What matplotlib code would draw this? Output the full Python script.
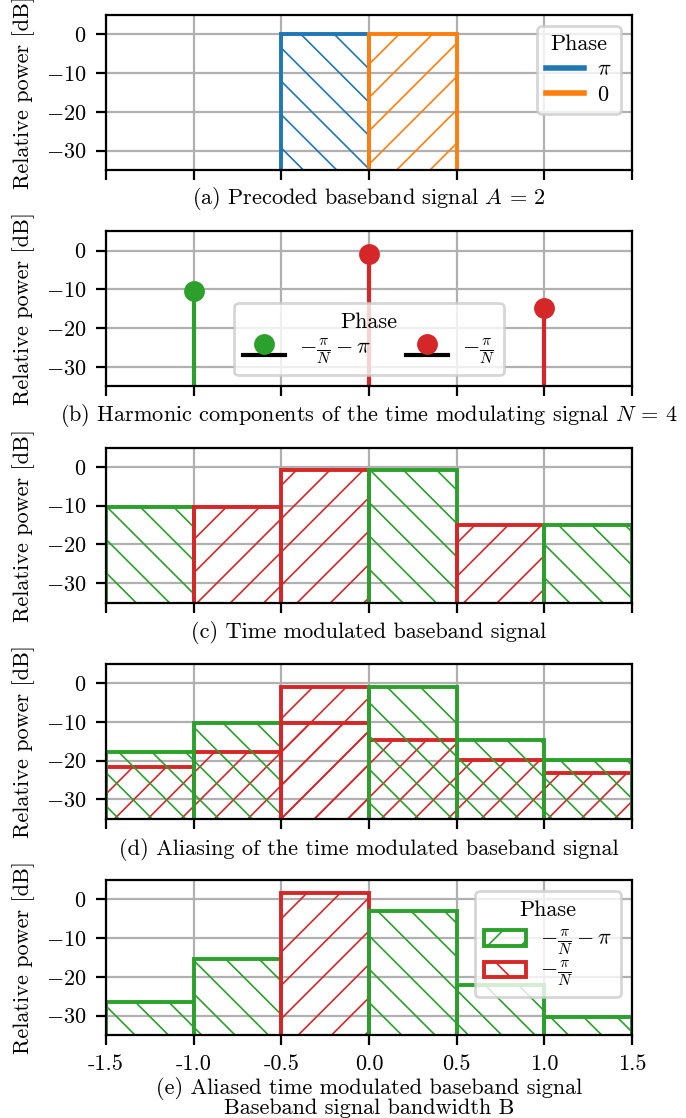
import matplotlib
matplotlib.use('Agg')
import matplotlib.pyplot as plt
from matplotlib.lines import Line2D
from matplotlib.patches import Patch

plt.rcParams.update({
    'font.family': 'serif',
    'font.serif': ['cmr10'],
    'mathtext.fontset': 'cm',
    'axes.formatter.use_mathtext': True,
    'font.size': 8,
    'hatch.linewidth': 0.6,
})

BLUE, ORANGE, GREEN, RED = '#1f77b4', '#ff7f0e', '#2ca02c', '#d62728'

# ---- data ----
xticks = [-1.5, -1.0, -0.5, 0.0, 0.5, 1.0, 1.5]
xtick_labels = ['-1.5', '-1.0', '-0.5', '0.0', '0.5', '1.0', '1.5']
yticks = [0, -10, -20, -30]

captions = [
    r'(a) Precoded baseband signal $A$ = 2',
    r'(b) Harmonic components of the time modulating signal $N$ = 4',
    r'(c) Time modulated baseband signal',
    r'(d) Aliasing of the time modulated baseband signal',
    '(e) Aliased time modulated baseband signal\nBaseband signal bandwidth B',
]

# (a) precoded baseband signal
a_x = [-0.25, 0.25]
a_val = [0.0, 0.0]
a_phase = ['pi', 'zero']

# (b) harmonic components
b_green_x = [-1.0]
b_green_val = [-10.4]
b_red_x = [0.0, 1.0]
b_red_val = [-0.9, -14.9]

# (c) time modulated baseband signal
c_x = [-1.25, -0.75, -0.25, 0.25, 0.75, 1.25]
c_val = [-10.4, -10.4, -0.9, -0.9, -14.9, -14.9]
c_phase = ['g', 'r', 'r', 'g', 'r', 'g']

# (d) aliasing
d_x = [-1.25, -1.25, -0.75, -0.75, -0.25, -0.25, 0.25, 0.25, 0.75, 0.75, 1.25, 1.25]
d_val = [-21.7, -17.8, -17.8, -10.4, -0.9, -10.4, -14.8, -0.9, -19.9, -14.8, -23.1, -19.9]
d_phase = ['r', 'g', 'r', 'g', 'r', 'r', 'r', 'g', 'r', 'g', 'r', 'g']

# (e) aliased signal
e_x = [-1.25, -0.75, -0.25, 0.25, 0.75, 1.25]
e_val = [-26.6, -15.3, 1.55, -2.9, -22.0, -30.3]
e_phase = ['g', 'g', 'r', 'g', 'g', 'g']

style = {
    'g': (GREEN, '\\\\'), 'r': (RED, '//'),
    'pi': (BLUE, '\\\\'), 'zero': (ORANGE, '//'),
}
BOTTOM = -40
LW = 1.4

fig, axes = plt.subplots(5, 1, figsize=(3.43, 5.59), dpi=200, sharex=True)
fig.subplots_adjust(left=0.1545, right=0.921, top=0.9866, bottom=0.0742, hspace=0.395)


def draw_bars(ax, xs, vals, phases):
    for x, v, p in zip(xs, vals, phases):
        col, h = style[p]
        ax.bar(x, v - BOTTOM, bottom=BOTTOM, width=0.5, fill=False,
               edgecolor=col, hatch=h, linewidth=LW, zorder=2)


pads = [2.0, 2.0, 3.3, 3.3, 1.0]
spacings = [0.95, 0.95, 0.95, 0.95, 0.9]
for ax, cap, pad, ls in zip(axes, captions, pads, spacings):
    ax.set_xlim(-1.5, 1.5)
    ax.set_ylim(-35, 5)
    ax.set_xticks(xticks)
    ax.set_yticks(yticks)
    ax.grid(True)
    ax.set_axisbelow(True)
    ax.set_ylabel('Relative power [dB]')
    ax.set_xlabel(cap, labelpad=pad, linespacing=ls)
axes[-1].set_xticklabels(xtick_labels)

leg_kw = dict(handletextpad=0.6, labelspacing=0.25, handlelength=1.7, borderpad=0.4)


def tighten(leg, sep):
    leg._legend_box.sep = sep
    return leg


# (a)
draw_bars(axes[0], a_x, a_val, a_phase)
tighten(axes[0].legend(handles=[Line2D([], [], color=BLUE, lw=2.0, label=r'$\pi$'),
                                Line2D([], [], color=ORANGE, lw=2.0, label=r'$0$')],
                       title='Phase', loc='upper right', **leg_kw), sep=2.0)

# (b)
ax = axes[1]
for xs, vs, col, lab in [(b_green_x, b_green_val, GREEN, r'$-\frac{\pi}{N}-\pi$'),
                         (b_red_x, b_red_val, RED, r'$-\frac{\pi}{N}$')]:
    m, s, b = ax.stem(xs, vs, linefmt='-', markerfmt='o', basefmt='k-',
                      bottom=BOTTOM, label=lab)
    plt.setp(m, color=col, markersize=6.5)
    plt.setp(s, color=col, linewidth=1.5)
    plt.setp(b, color='k', linewidth=1.5)
tighten(ax.legend(title='Phase', ncol=2, loc='lower center', columnspacing=1.6,
                  **dict(leg_kw, handlelength=1.9)), sep=2.0)

# (c)
draw_bars(axes[2], c_x, c_val, c_phase)
# (d)
draw_bars(axes[3], d_x, d_val, d_phase)
# (e)
draw_bars(axes[4], e_x, e_val, e_phase)
tighten(axes[4].legend(handles=[Patch(facecolor='none', edgecolor=GREEN, hatch='//', lw=LW,
                                      label=r'$-\frac{\pi}{N}-\pi$'),
                                Patch(facecolor='none', edgecolor=RED, hatch='\\\\', lw=LW,
                                      label=r'$-\frac{\pi}{N}$')],
                       title='Phase', loc='upper right',
                       **dict(leg_kw, labelspacing=0.1, handlelength=1.9)), sep=3.0)

fig.savefig('out.png', dpi=200)
